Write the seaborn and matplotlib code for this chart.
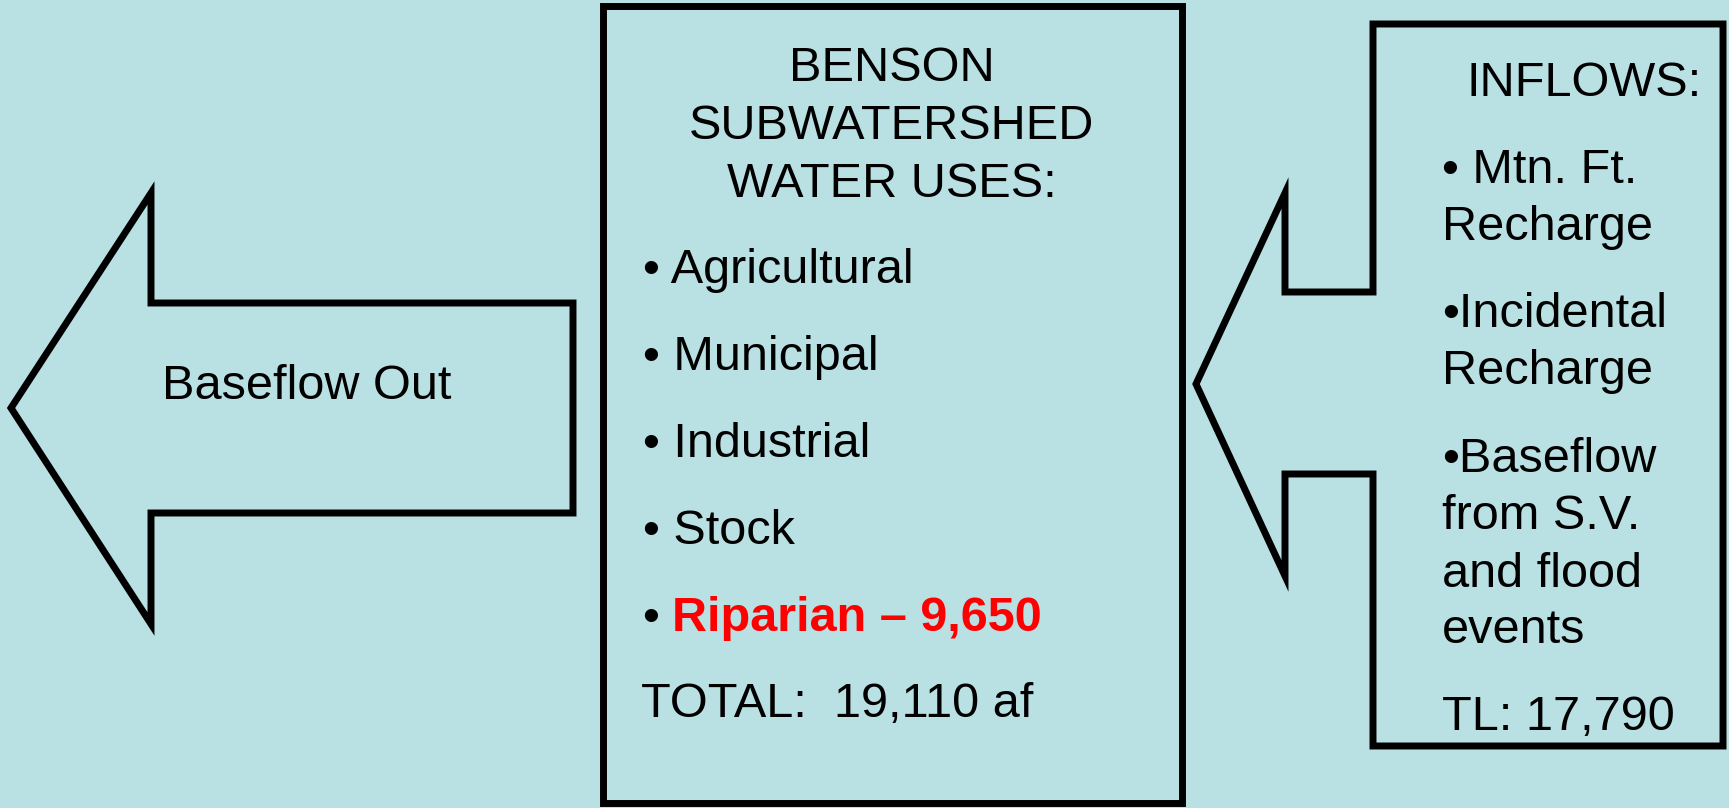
import matplotlib
matplotlib.use("Agg")
import matplotlib.pyplot as plt
import seaborn as sns
from matplotlib.patches import Polygon, Rectangle

# DATA

title_lines = ["BENSON", "SUBWATERSHED", "WATER USES:"]
water_uses = ["Agricultural", "Municipal", "Industrial", "Stock"]
riparian_label = "Riparian \u2013 9,650"
uses_total = "TOTAL:  19,110 af"

inflow_title = "INFLOWS:"
inflow_lines = ["\u2022 Mtn. Ft.", "Recharge", "\u2022Incidental", "Recharge",
                "\u2022Baseflow", "from S.V.", "and flood", "events"]
inflow_total = "TL: 17,790"

outflow_label = "Baseflow Out"

# STYLE

sns.set_theme(style="white")
plt.rcParams["font.family"] = ["Liberation Sans", "DejaVu Sans"]
plt.rcParams["text.color"] = "black"

BG = "#B9E0E3"
W, H = 1729, 808
FS = 35
LW = 5

fig = plt.figure(figsize=(W / 100, H / 100), dpi=100, facecolor=BG)
ax = fig.add_axes([0, 0, 1, 1])
ax.set_facecolor(BG)
ax.set_xlim(0, W)
ax.set_ylim(H, 0)
ax.axis("off")

# LEFT ARROW - BASEFLOW OUT

left_arrow = [(11, 408), (151, 193), (151, 303), (573, 303),
              (573, 513), (151, 513), (151, 624)]
ax.add_patch(Polygon(left_arrow, closed=True, facecolor=BG,
                     edgecolor="black", linewidth=LW, joinstyle="miter"))
ax.text(162, 399, outflow_label, fontsize=FS, va="baseline", ha="left")

# CENTER BOX - WATER USES

ax.add_patch(Rectangle((603, 6), 579, 797, facecolor=BG,
                       edgecolor="black", linewidth=LW, joinstyle="miter"))

for i, line in enumerate(title_lines):
    ax.text(892, 81 + i * 58, line, fontsize=FS, va="baseline", ha="center")

for i, use in enumerate(water_uses):
    ax.text(643, 283 + i * 87, "\u2022 " + use, fontsize=FS,
            va="baseline", ha="left")

ax.text(643, 631, "\u2022 ", fontsize=FS, va="baseline", ha="left")
ax.text(672, 631, riparian_label, fontsize=FS, va="baseline", ha="left",
        color="#FF0000", fontweight="bold")
ax.text(641, 717, uses_total, fontsize=FS, va="baseline", ha="left")

# RIGHT CALLOUT - INFLOWS

right_shape = [(1373, 24), (1723, 24), (1723, 746), (1373, 746),
               (1373, 474), (1285, 474), (1285, 576), (1196, 384),
               (1285, 193), (1285, 292), (1373, 292)]
ax.add_patch(Polygon(right_shape, closed=True, facecolor=BG,
                     edgecolor="black", linewidth=LW, joinstyle="miter"))

ax.text(1467, 96, inflow_title, fontsize=FS, va="baseline", ha="left")

inflow_y = [183, 240, 327, 384, 472, 529, 587, 643]
for y, line in zip(inflow_y, inflow_lines):
    ax.text(1442, y, line, fontsize=FS, va="baseline", ha="left")

ax.text(1442, 730, inflow_total, fontsize=FS, va="baseline", ha="left")

plt.savefig("out.png", dpi=100, facecolor=BG)
